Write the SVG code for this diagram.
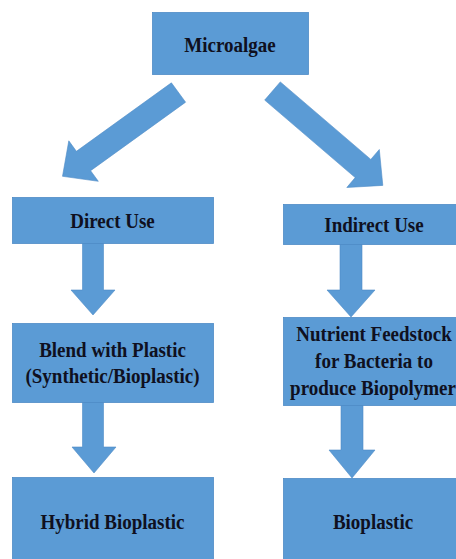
<svg xmlns="http://www.w3.org/2000/svg" width="456" height="559" viewBox="0 0 456 559">
<style>
.box{fill:#5b9bd5;stroke:#4f8cc6;stroke-width:0.8}
.arr{fill:#5b9bd5;stroke:#4f8cc6;stroke-width:0.6}
text{font-family:"Liberation Serif","Times New Roman",serif;font-weight:bold;font-size:19px;fill:#0f1020;text-anchor:middle}
</style>
<rect width="456" height="559" fill="#ffffff"/>
<g id="connectors">
<polygon class="arr" points="171.4,82.8 185.6,102.2 90.6,170.7 98.3,181.3 62.5,176.3 68.8,140.8 76.4,151.3"/>
<polygon class="arr" points="280.3,81.9 370.8,159.4 379.3,149.5 382.8,185.4 346.8,187.5 355.2,177.6 264.7,100.1"/>
<polygon class="arr" points="82.5,243 103.5,243 103.5,290 115,290 93,315 71,290 82.5,290"/>
<polygon class="arr" points="340,244 362,244 362,290 375,290 351,317 327,290 340,290"/>
<polygon class="arr" points="82.5,402 103.5,402 103.5,447 116,447 94,473 72,447 82.5,447"/>
<polygon class="arr" points="341,405 363,405 363,450 375,450 352,478 329,450 341,450"/>
</g>
<g id="microalgae">
<rect class="box" x="152.5" y="12.5" width="156" height="62"/>
<text transform="translate(230,52) scale(1,1.15)">Microalgae</text>
</g>
<g id="direct-use">
<rect class="box" x="12.5" y="197.5" width="201" height="46"/>
<text transform="translate(112.5,228) scale(1,1.15)">Direct Use</text>
</g>
<g id="indirect-use">
<rect class="box" x="283.5" y="204.5" width="180" height="40"/>
<text transform="translate(374,232) scale(1,1.15)">Indirect Use</text>
</g>
<g id="blend">
<rect class="box" x="12.5" y="323.5" width="201" height="79"/>
<text transform="translate(112.5,357) scale(1,1.15)">Blend with Plastic</text>
<text transform="translate(112.5,383) scale(1,1.15)">(Synthetic/Bioplastic)</text>
</g>
<g id="nutrient">
<rect class="box" x="283.5" y="317.5" width="180" height="88"/>
<text transform="translate(374,341) scale(1,1.15)">Nutrient Feedstock</text>
<text transform="translate(374,368) scale(1,1.15)">for Bacteria to</text>
<text transform="translate(373,395) scale(1,1.15)">produce Biopolymer</text>
</g>
<g id="hybrid-bioplastic">
<rect class="box" x="12.5" y="477.5" width="201" height="90"/>
<text transform="translate(112.5,529) scale(1,1.15)">Hybrid Bioplastic</text>
</g>
<g id="bioplastic">
<rect class="box" x="283.5" y="478.5" width="180" height="90"/>
<text transform="translate(373,529) scale(1,1.15)">Bioplastic</text>
</g>
</svg>
